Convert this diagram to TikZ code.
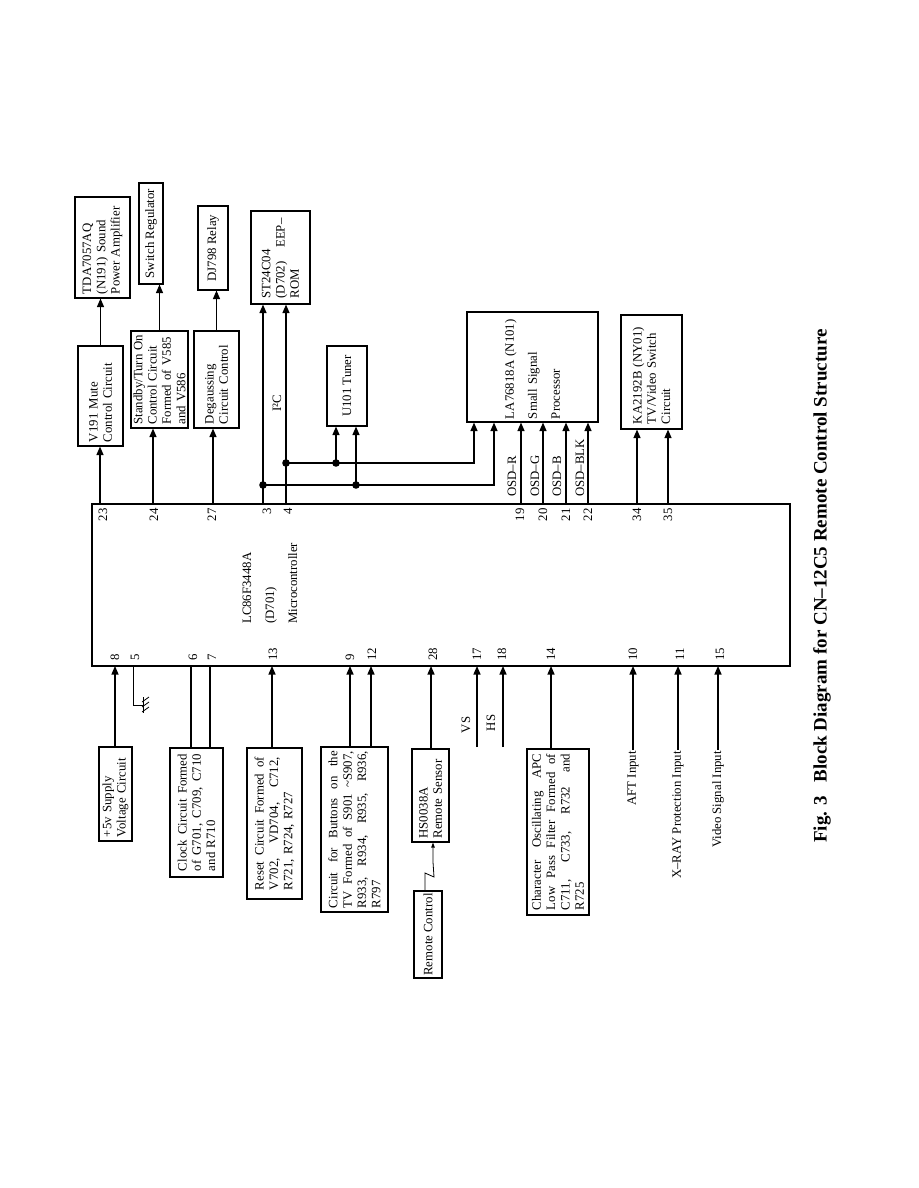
\documentclass[tikz,border=0pt]{standalone}
\usepackage{fontspec}
\setmainfont{Liberation Serif}
\usetikzlibrary{arrows.meta}
\newcommand\myfs{\fontsize{12.8}{14.3}\selectfont}
\newcommand\jl[2]{\makebox[#1][s]{\spaceskip=0pt\xspaceskip=0pt #2}}
\begin{document}
\begin{tikzpicture}[x=1pt,y=-1pt,
  blk/.style={draw, line width=1.1pt, rotate=90, inner xsep=4pt, inner ysep=1pt, align=left, font=\myfs},
  sblk/.style={draw, line width=1.1pt, rotate=90, inner xsep=1pt, inner ysep=1pt, align=center, font=\myfs},
  lbl/.style={rotate=90, inner sep=1pt, font=\myfs},
  arr/.style={line width=1.3pt, -{Triangle[length=8.5pt,width=7pt]}},
  wire/.style={line width=1.3pt},
  dot/.style={fill=black}]
\useasboundingbox[fill=white] (0,0) rectangle (918,1188);

% ---------- main controller ----------
\node[draw, line width=1.1pt, minimum width=698pt, minimum height=162pt, inner sep=0pt] (mcu) at (441,585) {};
\node[lbl, anchor=west, align=left, font=\fontsize{12.8}{23}\selectfont] (mcutxt) at (270,625) {LC86F3448A\\(D701)\\Microcontroller};

% ---------- upper blocks ----------
\node[blk, minimum width=101pt, minimum height=55pt, text width=93pt] (tda) at (102.5,247.5) {TDA7057AQ\\(N191) Sound\\Power Amplifier};
\node[blk, minimum width=100pt, minimum height=45pt, text width=92pt] (mute) at (100.5,396) {V191 Mute\\Control Circuit};
\node[sblk, minimum width=101pt, minimum height=24pt] (swreg) at (151,233.5) {Switch Regulator};
\node[blk, minimum width=97pt, minimum height=57pt, text width=90pt, inner xsep=3.5pt] (standby) at (159.5,379.5) {Standby/Turn On\\Control Circuit\\Formed of V585\\and V586};
\node[sblk, minimum width=84pt, minimum height=30pt] (relay) at (213,248) {DJ798 Relay};
\node[blk, minimum width=97pt, minimum height=45pt, text width=89pt] (degauss) at (216.5,379.5) {Degaussing\\Circuit Control};
\node[blk, minimum width=93pt, minimum height=59pt, text width=82pt] (eeprom) at (280.5,257.5) {ST24C04\\\jl{80pt}{(D702) EEP–}\\ROM};
\node[sblk, minimum width=80pt, minimum height=40pt] (tuner) at (347,386) {U101 Tuner};
\node[blk, minimum width=110pt, minimum height=131pt, text width=104pt, inner xsep=3pt, font=\fontsize{12.8}{23}\selectfont] (la) at (532.5,367) {LA76818A (N101)\\Small Signal\\Processor};
\node[blk, minimum width=114pt, minimum height=61pt, text width=104pt, inner xsep=5pt] (ka) at (651.5,372) {KA2192B (NY01)\\TV/Video Switch\\Circuit};
\node[lbl] (i2c) at (277,403) {I²C};

% ---------- lower blocks ----------
\node[blk, minimum width=94pt, minimum height=33pt, text width=86pt] (supply) at (115.5,794) {+5v Supply\\Voltage Circuit};
\node[blk, minimum width=129pt, minimum height=53pt, text width=117pt, inner xsep=6pt] (clock) at (196.5,812.5) {\jl{117pt}{Clock Circuit Formed}\\\jl{117pt}{of G701, C709, C710}\\and R710};
\node[blk, minimum width=151pt, minimum height=55pt, text width=133pt, inner xsep=9pt] (reset) at (274.5,823.5) {\jl{133pt}{Reset Circuit Formed of}\\\jl{133pt}{V702, VD704, C712,}\\R721, R724, R727};
\node[blk, minimum width=165pt, minimum height=67pt, text width=157pt, inner xsep=4pt] (buttons) at (354.5,829.5) {\jl{157pt}{Circuit for Buttons on the}\\\jl{157pt}{TV Formed of S901 \textasciitilde S907,}\\\jl{157pt}{R933, R934, R935, R936,}\\R797};
\node[blk, minimum width=93pt, minimum height=37pt, text width=86pt, inner xsep=3.5pt] (sensor) at (430.5,795.5) {HS0038A\\Remote Sensor};
\node[sblk, minimum width=87pt, minimum height=28pt] (remote) at (428,934.5) {Remote Control};
\node[blk, minimum width=166pt, minimum height=62pt, text width=156pt, inner xsep=5pt] (charbox) at (558,832) {\jl{156pt}{Character Oscillating APC}\\\jl{156pt}{Low Pass Filter Formed of}\\\jl{156pt}{C711, C733, R732 and}\\R725};

% ---------- pin coordinates ----------
\foreach \n/\x in {23/100,24/153,27/213,3/263,4/286,19/521,20/543,21/566,22/588,34/637,35/668}
  \coordinate (p\n) at (\x,504);
\foreach \n/\x in {8/115,5/133,6/191,7/210,13/272,9/350,12/371,28/431,17/477,18/503,14/551,10/633,11/678,15/718}
  \coordinate (p\n) at (\x,666);

% ---------- pin numbers ----------
\foreach \n/\x in {23/103,24/154,27/212,3/267,4/288,19/520,20/543,21/566,22/588,34/637,35/668}
  \node[lbl, anchor=east] (t\n) at (\x,507) {\n};
\foreach \n/\x in {8/115,5/135,6/193,7/212,13/273,9/350,12/372,28/433,17/477,18/502,14/551,10/633,11/680,15/720}
  \node[lbl, anchor=west] (b\n) at (\x,662) {\n};

% ---------- upper connections ----------
\draw[arr] (mute.east) -- (mute.east |- tda.west);
\draw[arr] (p23) -- (p23 |- mute.west);
\draw[arr] (standby.east) -- (standby.east |- swreg.west);
\draw[arr] (p24) -- (p24 |- standby.west);
\draw[arr] (degauss.east) -- (degauss.east |- relay.west);
\draw[arr] (p27) -- (p27 |- degauss.west);
\draw[arr] (p3) -- (p3 |- eeprom.west);
\draw[arr] (p4) -- (p4 |- eeprom.west);

\coordinate (j4a) at (286,463);
\coordinate (j4b) at (336,463);
\coordinate (c4) at (474,463);
\coordinate (j3a) at (263,485);
\coordinate (j3b) at (356,485);
\coordinate (c3) at (494,485);
\draw[arr] (j4a) -- (c4) -- (c4 |- la.west);
\draw[arr] (j3a) -- (c3) -- (c3 |- la.west);
\draw[arr] (j4b) -- (j4b |- tuner.west);
\draw[arr] (j3b) -- (j3b |- tuner.west);
\foreach \j in {j4a,j4b,j3a,j3b} \fill[dot] (\j) circle (3.8pt);

\foreach \n in {19,20,21,22} \draw[arr] (p\n) -- (p\n |- la.west);
\node[lbl, anchor=west] (osdr) at (512,498) {OSD–R};
\node[lbl, anchor=west] (osdg) at (535,498) {OSD–G};
\node[lbl, anchor=west] (osdb) at (557,498) {OSD–B};
\node[lbl, anchor=west] (osdk) at (580,498) {OSD–BLK};
\draw[arr] (p34) -- (p34 |- ka.west);
\draw[arr] (p35) -- (p35 |- ka.west);

% ---------- lower connections ----------
\draw[arr] (p8 |- supply.east) -- (p8);
\coordinate (g1) at (133,705);
\coordinate (g2) at (143,705);
\draw[line width=1pt] (p5) -- (g1) -- (g2);
\draw[line width=1pt] (143,697) -- (143,713);
\foreach \yy in {699,704,709} \draw[line width=0.8pt] (142,\yy+3) -- (149,\yy-2);
\draw[wire] (p6) -- (p6 |- clock.east);
\draw[wire] (p7) -- (p7 |- clock.east);
\draw[arr] (p13 |- reset.east) -- (p13);
\draw[arr] (p9 |- buttons.east) -- (p9);
\draw[arr] (p12 |- buttons.east) -- (p12);
\draw[arr] (p28 |- sensor.east) -- (p28);
\coordinate (vsend) at (477,747);
\coordinate (hsend) at (503,747);
\draw[arr] (vsend) -- (p17);
\draw[arr] (hsend) -- (p18);
\node[lbl] (vs) at (466,725) {VS};
\node[lbl] (hs) at (491,723) {HS};
\draw[arr] (p14 |- charbox.east) -- (p14);

\coordinate (z1) at (425,873);
\coordinate (z2) at (434,877);
\coordinate (z3) at (433,862);
\draw[line width=0.8pt, -{Triangle[length=5pt,width=3.5pt]}] (remote.east -| z1) -- (z1) -- (z2) -- (z3) -- (z3 |- sensor.west);

\node[lbl, anchor=east] (aft) at (633,750) {AFT Input};
\node[lbl, anchor=east] (xray) at (678,750) {X–RAY Protection Input};
\node[lbl, anchor=east] (video) at (718,750) {Video Signal Input};
\draw[arr] (aft.east) -- (p10);
\draw[arr] (xray.east) -- (p11);
\draw[arr] (video.east) -- (p15);

% ---------- title ----------
\node[rotate=90, inner sep=0pt, font=\fontsize{19}{22}\selectfont\bfseries] (title) at (822,586) {Fig. 3\hspace{0.7em}Block Diagram for CN–12C5 Remote Control Structure};
\end{tikzpicture}
\end{document}
